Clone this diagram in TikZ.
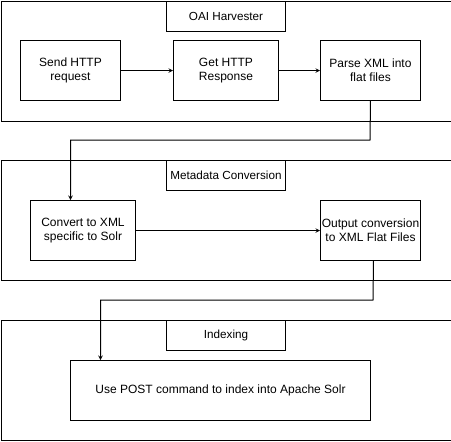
\documentclass[tikz,border=0pt]{standalone}
\usepackage{fontspec}
\setmainfont{Liberation Sans}
\usepackage{tikz}
\usetikzlibrary{positioning}
\tikzset{>=stealth}
\tikzset{
    stagebox/.style={draw, line width=1pt, minimum width=450pt, minimum height=120pt, anchor=north west},
    titlebox/.style={draw, line width=1pt, minimum width=119pt, minimum height=30pt, anchor=north west, font=\fontsize{11.7}{13}\selectfont},
    taskbox/.style={draw, line width=1pt, minimum height=60pt, anchor=north west, align=center, font=\fontsize{12}{14}\selectfont},
    flow/.style={->, line width=1pt}
}

\begin{document}
\begin{tikzpicture}[x=1pt, y=-1pt]
    \useasboundingbox (0, 0) rectangle (451, 442);
    % stages
    \node[stagebox] (harvest) at (0.5, 0.5) {};
    \node[stagebox] (convert) at (0.5, 160) {};
    \node[stagebox] (index) at (0.5, 320) {};
    \node[titlebox] (harvestT) at (166, 0.5) {OAI Harvester};
    \node[titlebox] (convertT) at (166, 160) {Metadata Conversion};
    \node[titlebox] (indexT) at (166, 320) {Indexing};
    % tasks
    \node[taskbox, minimum width=100pt] (send) at (20, 40) {Send HTTP\\request};
    \node[taskbox, minimum width=105pt] (get) at (173, 40) {Get HTTP\\Response};
    \node[taskbox, minimum width=100pt] (parse) at (320, 40) {Parse XML into\\flat files};
    \node[taskbox, minimum width=105pt] (xml) at (30, 200) {Convert to XML\\specific to Solr};
    \node[taskbox, minimum width=100pt, inner sep=1pt] (out) at (320, 200) {Output conversion\\to XML Flat Files};
    \node[taskbox, minimum width=300pt] (post) at (70, 360) {Use POST command to index into Apache Solr};
    % connectors
    \coordinate (bend1) at (370, 140);
    \coordinate (bend2) at (373, 300);
    \draw[flow] (send) -- (get);
    \draw[flow] (get) -- (parse);
    \draw[flow] (parse.south) -- (bend1) -| ([xshift=-12.5pt]xml.north);
    \draw[flow] (xml) -- (out);
    \draw[flow] ([xshift=3pt]out.south) -- (bend2) -| ([xshift=-120pt]post.north);
\end{tikzpicture}
\end{document}
